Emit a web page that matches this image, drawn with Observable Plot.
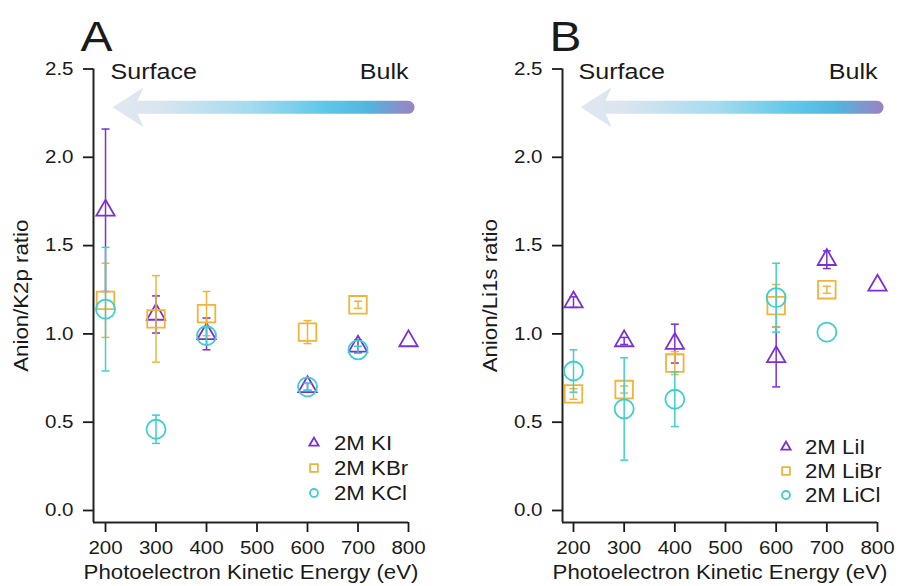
<!DOCTYPE html>
<html>
<head>
<meta charset="utf-8">
<script src="https://cdn.jsdelivr.net/npm/d3@7"></script>
<script src="https://cdn.jsdelivr.net/npm/@observablehq/plot@0.6"></script>
<style>
  body { margin: 0; background: #fff; }
  #chart { position: relative; width: 899px; height: 586px; overflow: hidden; background: #fff;
           font-family: "Liberation Sans", Arial, Helvetica, sans-serif; color: #1a1a1a; }
  .panel { position: absolute; top: 0; }
  .legend-row { position: absolute; height: 24px; display: flex; align-items: center; font-size: 19.5px; line-height: 24px; white-space: nowrap; }
  .legend-row svg { flex: none; overflow: visible; }
  .legend-row span { display: inline-block; transform: scaleX(1.14); transform-origin: 0 50%; }
</style>
</head>
<body>
<div id="chart"></div>
<script>
// Photon kinetic energies probed (eV)
const energies = [200, 300, 400, 600, 700, 800];

// Panel A: anion / K 2p intensity ratio (null = not measured)
const kiRatio  = [1.70, 1.11, 1.00, 0.70, 0.93, 0.96];
const kiErr    = [0.46, 0.105, 0.09, 0.02, 0.035, null];
const kbrRatio = [1.19, 1.085, 1.115, 1.01, 1.165, null];
const kbrErr   = [0.21, 0.245, 0.125, 0.065, 0.02, null];
const kclRatio = [1.14, 0.46, 0.99, 0.70, 0.91, null];
const kclErr   = [0.35, 0.08, 0.05, 0.02, 0.02, null];

// Panel B: anion / Li 1s intensity ratio
const liiRatio  = [1.18, 0.96, 0.945, 0.87, 1.42, 1.275];
const liiErr    = [0.03, 0.02, 0.11, 0.17, 0.05, null];
const librRatio = [0.66, 0.685, 0.835, 1.16, 1.25, null];
const libRErr   = [0.03, 0.02, 0.065, 0.12, 0.02, null];
const liclRatio = [0.79, 0.575, 0.63, 1.205, 1.01, null];
const liclErr   = [0.12, 0.29, 0.155, 0.195, null, null];

// Series names and tick values
const seriesA = ["2M KI", "2M KBr", "2M KCl"];
const seriesB = ["2M LiI", "2M LiBr", "2M LiCl"];
const xTicks = [200, 300, 400, 500, 600, 700, 800];
const yTicks = [0, 0.5, 1.0, 1.5, 2.0, 2.5];

// Styling
const colors = ["#7a30d8", "#f0b43a", "#3fcfcf"];
const symbols = ["triangle", "square", "circle"];
const symbolR = [6.8, 9.9, 9.5];
const STRETCH = 1.14; // the typeface here runs slightly wide
const yDomain = [-0.068, 2.5];

function rows(values, errors) {
  return energies
    .map((e, i) => ({energy: e, ratio: values[i], err: errors[i]}))
    .filter(d => d.ratio != null);
}

// short horizontal stroke used as an error-bar cap
const capSymbol = {
  draw(ctx, size) { const w = Math.sqrt(size) / 2; ctx.moveTo(-w, 0); ctx.lineTo(w, 0); }
};

// gradient "Surface <- Bulk" arrow, positioned through the scales
function depthArrow(id) {
  return (index, {x, y}) => {
    const x0 = x(215), x1 = x(813), yc = y(2.28);
    const h = 6.5;
    const g = d3.create("svg:g");
    const grad = g.append("defs").append("linearGradient")
      .attr("id", id).attr("gradientUnits", "userSpaceOnUse")
      .attr("x1", x0).attr("x2", x1).attr("y1", 0).attr("y2", 0);
    [[0, "#e2e7ef"], [0.15, "#d9e5f0"], [0.45, "#a6dbef"], [0.7, "#5fc8e8"],
     [0.85, "#52b5df"], [0.93, "#7b98cf"], [1, "#9d82c3"]]
      .forEach(([o, c]) => grad.append("stop").attr("offset", o).attr("stop-color", c));
    g.append("path")
      .attr("d", `M${x0},${yc} L${x0 + 31},${yc - 20} L${x0 + 25},${yc - h} L${x1 - h},${yc - h}
                  A${h},${h} 0 0 1 ${x1 - h},${yc + h} L${x0 + 25},${yc + h} L${x0 + 31},${yc + 20} Z`)
      .attr("fill", `url(#${id})`);
    return g.node();
  };
}

function panel({letter, ylabel, names, values, errors, width, marginLeft, marginRight, xDomain, id}) {
  const seriesMarks = [];
  names.forEach((name, s) => {
    const pts = rows(values[s], errors[s]);
    const bars = pts.filter(d => d.err != null);
    seriesMarks.push(
      Plot.ruleX(bars, {x: "energy", y1: d => d.ratio - d.err, y2: d => d.ratio + d.err,
                        stroke: colors[s], strokeWidth: 1.5}),
      Plot.dot(bars, {x: "energy", y: d => d.ratio + d.err, symbol: capSymbol, r: 4.5,
                      stroke: colors[s], strokeWidth: 1.5, fill: "none"}),
      Plot.dot(bars, {x: "energy", y: d => d.ratio - d.err, symbol: capSymbol, r: 4.5,
                      stroke: colors[s], strokeWidth: 1.5, fill: "none"}),
      Plot.dot(pts, {x: "energy", y: "ratio", symbol: symbols[s], r: symbolR[s],
                     stroke: colors[s], strokeWidth: 1.8, fill: "none"})
    );
  });

  const plot = Plot.plot({
    width, height: 586,
    marginLeft, marginRight, marginTop: 68.5, marginBottom: 64,
    style: {fontSize: "18px", fontFamily: "'Liberation Sans', Arial, Helvetica, sans-serif", color: "#1a1a1a", background: "transparent"},
    x: {domain: xDomain},
    y: {domain: yDomain},
    marks: [
      depthArrow(id),
      Plot.text(["Surface"], {x: 210, y: 2.446, textAnchor: "start", lineAnchor: "bottom", fontSize: 22}),
      Plot.text(["Bulk"], {x: 800, y: 2.446, textAnchor: "end", lineAnchor: "bottom", fontSize: 22}),
      Plot.text([letter], {frameAnchor: "top-left", dx: -13, dy: -18.5, textAnchor: "start", lineAnchor: "bottom", fontSize: 42}),
      Plot.axisX({ticks: xTicks, tickFormat: d3.format("d"), tickSize: 10, tickPadding: 9, strokeWidth: 1.8,
                  label: "Photoelectron Kinetic Energy (eV)", labelAnchor: "center", labelArrow: "none", labelOffset: 56}),
      Plot.axisY({ticks: yTicks, tickFormat: d3.format(".1f"), tickSize: 10, tickPadding: 10, strokeWidth: 1.8,
                  label: ylabel, labelAnchor: "center", labelArrow: "none", labelOffset: 79}),
      Plot.ruleX([xDomain[0]], {stroke: "#222", strokeWidth: 2}),
      Plot.ruleY([yDomain[0]], {stroke: "#222", strokeWidth: 2}),
      ...seriesMarks
    ]
  });
  return plot;
}

function legend(container, names, symX, textX, rowY) {
  names.forEach((name, s) => {
    const row = document.createElement("div");
    row.className = "legend-row";
    row.style.left = (symX - 6) + "px";
    row.style.top = (rowY[s] - 12) + "px";
    const svg = d3.create("svg").attr("width", 12).attr("height", 12).attr("viewBox", "-6 -6 12 12");
    const sym = {triangle: d3.symbolTriangle, square: d3.symbolSquare, circle: d3.symbolCircle}[symbols[s]];
    const size = {triangle: 38, square: 60, circle: 50}[symbols[s]];
    svg.append("path").attr("d", d3.symbol(sym, size)())
      .attr("fill", "none").attr("stroke", colors[s]).attr("stroke-width", 1.8);
    row.appendChild(svg.node());
    const span = document.createElement("span");
    span.textContent = name;
    span.style.marginLeft = (textX - (symX + 6)) + "px";
    row.appendChild(span);
    container.appendChild(row);
  });
}

// axis titles a touch larger than tick labels; then widen all text along its baseline
function finishText(svg) {
  svg.querySelectorAll('g[aria-label="x-axis label"] text, g[aria-label="y-axis label"] text')
    .forEach(t => { t.style.fontSize = "19.5px"; });
  svg.querySelectorAll("text").forEach(t => {
    if (t.querySelector("tspan")) return;
    const L = t.getComputedTextLength();
    if (L > 0) {
      t.setAttribute("textLength", (L * STRETCH).toFixed(2));
      t.setAttribute("lengthAdjust", "spacingAndGlyphs");
    }
  });
}

const chart = document.getElementById("chart");

const panelA = document.createElement("div");
panelA.className = "panel"; panelA.style.left = "0px";
panelA.appendChild(panel({
  letter: "A", ylabel: "Anion/K2p ratio", names: seriesA,
  values: [kiRatio, kbrRatio, kclRatio], errors: [kiErr, kbrErr, kclErr],
  width: 449, marginLeft: 93, marginRight: 41, xDomain: [176.2, 800], id: "arrowA"
}));
chart.appendChild(panelA);

const panelB = document.createElement("div");
panelB.className = "panel"; panelB.style.left = "449px";
panelB.appendChild(panel({
  letter: "B", ylabel: "Anion/Li1s ratio", names: seriesB,
  values: [liiRatio, librRatio, liclRatio], errors: [liiErr, libRErr, liclErr],
  width: 450, marginLeft: 113, marginRight: 22, xDomain: [178.3, 800], id: "arrowB"
}));
chart.appendChild(panelB);

chart.querySelectorAll("svg").forEach(finishText);

legend(chart, seriesA, 314, 334, [443, 468, 493]);
legend(chart, seriesB, 786, 805, [447, 471, 495]);
</script>
</body>
</html>
